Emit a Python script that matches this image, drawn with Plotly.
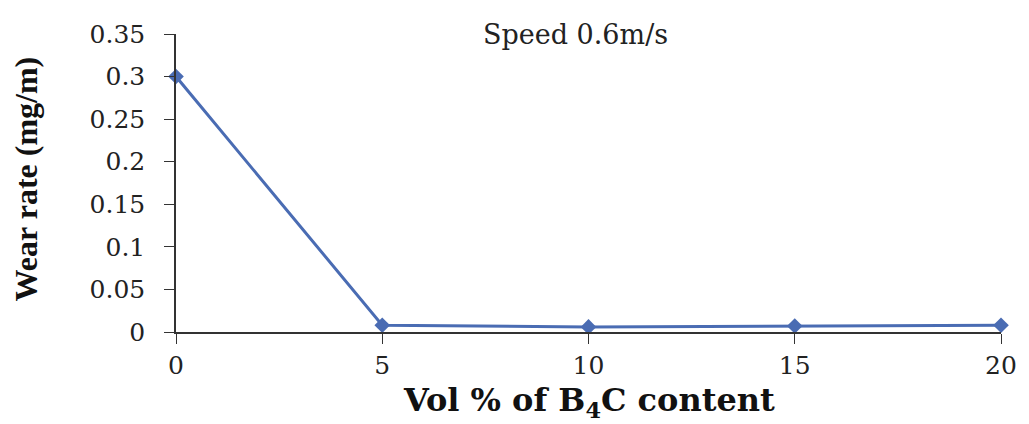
import plotly.graph_objects as go

vol_pct = [0, 5, 10, 15, 20]
wear_rate = [0.30, 0.008, 0.006, 0.007, 0.008]
y_ticks = [0, 0.05, 0.1, 0.15, 0.2, 0.25, 0.3, 0.35]
y_labels = ['0', '0.05', '0.1', '0.15', '0.2', '0.25', '0.3', '0.35']
x_ticks = [0, 5, 10, 15, 20]

TICK_FONT = 'DejaVu Serif'
TITLE_FONT = 'Liberation Serif'
LINE_COLOR = '#4A6CB3'

fig = go.Figure()
fig.add_trace(go.Scatter(
    x=vol_pct, y=wear_rate, mode='lines+markers',
    line={'color': LINE_COLOR, 'width': 3},
    marker={'symbol': 'diamond', 'size': 12, 'color': LINE_COLOR},
    showlegend=False, cliponaxis=False,
))

# in-plot label
fig.add_annotation(
    text='Speed 0.6m/s', xref='paper', yref='paper', x=0.484, y=1.0,
    showarrow=False, yanchor='middle',
    font={'family': TICK_FONT, 'size': 27, 'color': '#222222'},
)
# axis titles placed as annotations to match the original positions
fig.add_annotation(
    text='<b>Vol % of B<sub>4</sub>C content</b>', xref='paper', yref='paper',
    x=0.5, y=-0.235, showarrow=False, yanchor='middle',
    font={'family': 'DejaVu Serif', 'size': 32, 'color': '#111111'},
)
fig.add_annotation(
    text='<b>Wear rate (mg/m)</b>', xref='paper', yref='paper',
    x=-0.182, y=0.515, showarrow=False, textangle=-90,
    xanchor='center', yanchor='middle',
    font={'family': TITLE_FONT, 'size': 32, 'color': '#111111'},
)

fig.update_xaxes(
    range=[0, 20], tickvals=x_ticks, ticks='outside', ticklen=10, ticklabelstandoff=0,
    showline=True, linecolor='#333333', linewidth=1.5, tickcolor='#333333',
    showgrid=False, zeroline=False,
    tickfont={'family': TICK_FONT, 'size': 25, 'color': '#222222'},
)
fig.update_yaxes(
    range=[0, 0.35], tickvals=y_ticks, ticktext=y_labels, ticks='outside', ticklen=10,
    ticklabelstandoff=14,
    showline=True, linecolor='#333333', linewidth=1.5, tickcolor='#333333',
    showgrid=False, zeroline=False,
    tickfont={'family': TICK_FONT, 'size': 25, 'color': '#222222'},
)

fig.update_layout(
    width=1021, height=416,
    plot_bgcolor='white', paper_bgcolor='white',
    margin={'l': 168, 'r': 22, 't': 16, 'b': 92},
)

fig.write_html('out.html')
